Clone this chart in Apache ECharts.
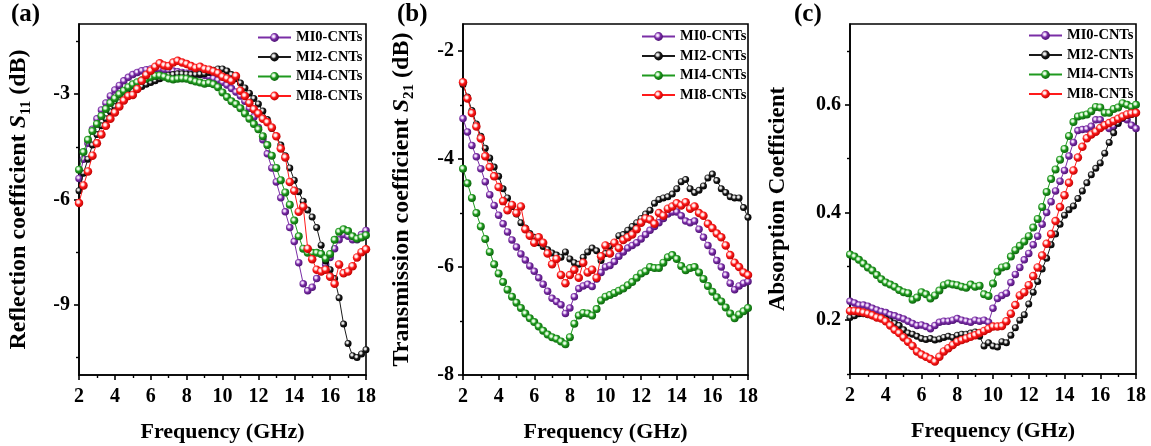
<!DOCTYPE html>
<html>
<head>
<meta charset="utf-8">
<script src="https://cdn.jsdelivr.net/npm/echarts@6/dist/echarts.min.js"></script>
<style>html,body{margin:0;padding:0;background:#fff}#c{width:1151px;height:446px}</style>
</head>
<body>
<div id="c"></div>
<script>
// ---------------- data ----------------
const freq = [2,2.25,2.5,2.75,3,3.25,3.5,3.75,4,4.25,4.5,4.75,5,5.25,5.5,5.75,6,6.25,6.5,6.75,7,7.25,7.5,7.75,8,8.25,8.5,8.75,9,9.25,9.5,9.75,10,10.25,10.5,10.75,11,11.25,11.5,11.75,12,12.25,12.5,12.75,13,13.25,13.5,13.75,14,14.25,14.5,14.75,15,15.25,15.5,15.75,16,16.25,16.5,16.75,17,17.25,17.5,17.75,18];
const seriesNames = ['MI0-CNTs','MI2-CNTs','MI4-CNTs','MI8-CNTs'];
const xTicks = [2,4,6,8,10,12,14,16,18];

// (a) Reflection coefficient S11 (dB)
const s11_MI0 = [-5.40,-4.85,-4.40,-4.00,-3.70,-3.45,-3.25,-3.05,-2.88,-2.75,-2.62,-2.52,-2.44,-2.38,-2.33,-2.30,-2.28,-2.27,-2.28,-2.30,-2.32,-2.34,-2.36,-2.38,-2.40,-2.41,-2.42,-2.44,-2.46,-2.50,-2.55,-2.60,-2.66,-2.74,-2.84,-2.94,-3.05,-3.20,-3.40,-3.65,-3.95,-4.30,-4.70,-5.10,-5.50,-5.95,-6.35,-6.80,-7.20,-7.80,-8.40,-8.60,-8.50,-8.25,-8.05,-7.85,-7.65,-7.40,-7.15,-7.00,-7.05,-7.15,-7.15,-7.00,-6.88];
const s11_MI2 = [-5.75,-5.25,-4.85,-4.45,-4.15,-3.90,-3.70,-3.50,-3.35,-3.22,-3.10,-3.00,-2.92,-2.85,-2.78,-2.72,-2.67,-2.62,-2.56,-2.50,-2.46,-2.44,-2.42,-2.42,-2.43,-2.44,-2.44,-2.43,-2.42,-2.38,-2.32,-2.28,-2.28,-2.34,-2.44,-2.56,-2.68,-2.82,-2.97,-3.12,-3.28,-3.48,-3.72,-3.98,-4.20,-4.45,-4.75,-5.10,-5.45,-5.78,-6.05,-6.30,-6.50,-6.80,-7.30,-7.75,-8.00,-8.25,-8.80,-9.55,-10.10,-10.45,-10.50,-10.40,-10.28];
const s11_MI4 = [-5.15,-4.65,-4.30,-4.05,-3.85,-3.62,-3.42,-3.25,-3.12,-3.00,-2.90,-2.80,-2.72,-2.66,-2.60,-2.56,-2.52,-2.48,-2.47,-2.50,-2.55,-2.58,-2.56,-2.55,-2.56,-2.60,-2.64,-2.67,-2.70,-2.68,-2.72,-2.80,-2.95,-3.08,-3.20,-3.28,-3.40,-3.55,-3.70,-3.85,-4.00,-4.20,-4.45,-4.75,-5.10,-5.45,-5.80,-6.15,-6.60,-7.05,-7.40,-7.52,-7.52,-7.52,-7.55,-7.68,-7.55,-7.15,-6.92,-6.85,-6.90,-7.05,-7.12,-7.08,-7.02];
const s11_MI8 = [-6.10,-5.60,-5.20,-4.75,-4.40,-4.15,-3.90,-3.70,-3.52,-3.35,-3.18,-3.05,-3.02,-2.85,-2.62,-2.45,-2.33,-2.22,-2.12,-2.18,-2.20,-2.10,-2.05,-2.10,-2.14,-2.20,-2.25,-2.22,-2.28,-2.30,-2.35,-2.40,-2.50,-2.55,-2.62,-2.48,-2.90,-3.05,-3.25,-3.43,-3.55,-3.70,-3.80,-3.95,-4.20,-4.55,-4.80,-5.50,-5.75,-6.35,-6.20,-7.40,-7.70,-8.00,-8.05,-8.00,-8.20,-8.40,-7.85,-8.10,-8.05,-7.90,-7.65,-7.50,-7.42];
const s11Labels = [-9,-6,-3];
const s11Minor = [-10.5,-7.5,-4.5,-1.5];

// (b) Transmission coefficient S21 (dB)
const s21_MI0 = [-3.25,-3.50,-3.75,-3.96,-4.18,-4.42,-4.66,-4.86,-5.04,-5.20,-5.35,-5.50,-5.63,-5.76,-5.87,-5.98,-6.08,-6.20,-6.32,-6.45,-6.58,-6.64,-6.70,-6.86,-6.76,-6.55,-6.40,-6.35,-6.32,-6.36,-6.22,-6.10,-6.00,-5.97,-5.90,-5.80,-5.72,-5.65,-5.60,-5.55,-5.48,-5.40,-5.32,-5.25,-5.18,-5.10,-5.02,-4.98,-4.98,-5.05,-5.15,-5.18,-5.15,-5.30,-5.45,-5.60,-5.72,-5.88,-6.00,-6.15,-6.30,-6.42,-6.35,-6.30,-6.27];
const s21_MI2 = [-2.62,-2.85,-3.10,-3.35,-3.58,-3.80,-3.98,-4.15,-4.32,-4.55,-4.72,-4.88,-5.02,-5.18,-5.28,-5.38,-5.45,-5.55,-5.62,-5.68,-5.74,-5.78,-5.82,-5.72,-5.85,-5.92,-5.95,-5.82,-5.72,-5.65,-5.70,-5.88,-5.75,-5.62,-5.55,-5.42,-5.40,-5.32,-5.25,-5.18,-5.10,-5.02,-4.95,-4.82,-4.75,-4.72,-4.70,-4.65,-4.55,-4.42,-4.38,-4.55,-4.62,-4.58,-4.50,-4.35,-4.28,-4.40,-4.55,-4.62,-4.70,-4.72,-4.72,-4.90,-5.08];
const s21_MI4 = [-4.18,-4.45,-4.72,-5.00,-5.25,-5.48,-5.72,-5.95,-6.12,-6.28,-6.42,-6.55,-6.66,-6.76,-6.86,-6.95,-7.02,-7.10,-7.18,-7.25,-7.30,-7.33,-7.38,-7.43,-7.30,-7.05,-6.90,-6.85,-6.86,-6.90,-6.78,-6.62,-6.55,-6.52,-6.48,-6.44,-6.40,-6.34,-6.28,-6.20,-6.12,-6.08,-6.00,-6.02,-6.02,-5.92,-5.82,-5.78,-5.85,-5.98,-6.06,-6.02,-6.00,-6.10,-6.22,-6.35,-6.46,-6.56,-6.64,-6.75,-6.86,-6.95,-6.88,-6.82,-6.76];
const s21_MI8 = [-2.58,-2.88,-3.15,-3.40,-3.62,-3.95,-4.15,-4.32,-4.52,-4.78,-4.95,-4.85,-5.00,-4.88,-5.30,-5.42,-5.55,-5.45,-5.55,-5.75,-5.95,-5.85,-6.15,-6.30,-6.15,-6.05,-6.20,-5.92,-6.10,-6.05,-6.20,-5.80,-5.60,-5.75,-5.55,-5.65,-5.50,-5.45,-5.40,-5.30,-5.18,-5.10,-5.12,-5.20,-5.00,-5.05,-4.92,-4.88,-4.82,-4.86,-4.80,-4.92,-4.88,-5.00,-5.05,-5.20,-5.28,-5.38,-5.45,-5.60,-5.78,-5.92,-6.00,-6.10,-6.15];
const s21Labels = [-8,-6,-4,-2];
const s21Minor = [-7,-5,-3];

// (c) Absorption Coefficient
const abs_MI0 = [0.235,0.232,0.228,0.228,0.226,0.222,0.219,0.216,0.214,0.210,0.208,0.205,0.202,0.198,0.194,0.190,0.191,0.188,0.184,0.190,0.196,0.198,0.198,0.200,0.203,0.200,0.198,0.196,0.200,0.198,0.200,0.196,0.222,0.240,0.246,0.250,0.270,0.285,0.298,0.312,0.324,0.340,0.356,0.378,0.400,0.420,0.440,0.458,0.478,0.505,0.530,0.552,0.554,0.555,0.560,0.572,0.572,0.562,0.556,0.560,0.568,0.575,0.572,0.562,0.556];
const abs_MI2 = [0.205,0.208,0.212,0.212,0.210,0.208,0.206,0.204,0.202,0.198,0.194,0.190,0.182,0.176,0.174,0.170,0.166,0.164,0.166,0.163,0.165,0.168,0.170,0.168,0.172,0.174,0.174,0.176,0.178,0.170,0.152,0.158,0.152,0.150,0.160,0.158,0.172,0.186,0.200,0.210,0.230,0.252,0.272,0.295,0.315,0.340,0.360,0.378,0.395,0.405,0.412,0.426,0.440,0.455,0.470,0.482,0.492,0.510,0.530,0.548,0.565,0.576,0.580,0.582,0.585];
const abs_MI4 = [0.322,0.318,0.312,0.305,0.298,0.292,0.284,0.276,0.270,0.266,0.262,0.256,0.252,0.250,0.238,0.242,0.252,0.248,0.240,0.246,0.255,0.265,0.268,0.266,0.265,0.262,0.260,0.266,0.262,0.264,0.248,0.245,0.268,0.290,0.298,0.300,0.318,0.330,0.338,0.346,0.356,0.372,0.388,0.410,0.438,0.462,0.480,0.498,0.518,0.542,0.568,0.578,0.580,0.582,0.588,0.596,0.595,0.585,0.585,0.592,0.595,0.603,0.600,0.596,0.600];
const abs_MI8 = [0.217,0.217,0.216,0.214,0.212,0.209,0.205,0.203,0.198,0.190,0.182,0.176,0.168,0.160,0.152,0.142,0.136,0.132,0.128,0.123,0.132,0.142,0.148,0.154,0.160,0.163,0.166,0.169,0.172,0.176,0.180,0.184,0.188,0.188,0.189,0.198,0.212,0.228,0.246,0.252,0.265,0.282,0.298,0.320,0.342,0.360,0.384,0.410,0.432,0.455,0.478,0.502,0.522,0.538,0.545,0.550,0.557,0.562,0.566,0.570,0.574,0.578,0.582,0.584,0.585];
const absLabels = [0.2,0.4,0.6];
const absMinor = [0.1,0.3,0.5,0.7];

// ---------------- styling ----------------
const FONT = '"Times New Roman", "Liberation Serif", "DejaVu Serif", serif';
const styles = [
  {base:'#7a2ea6', light:'#e6c8f5', dark:'#4a0f70', size:7.5},
  {base:'#1a1a1a', light:'#d8d8d8', dark:'#000000', size:7},
  {base:'#1f9a1f', light:'#d5f5d0', dark:'#0b5e0b', size:8},
  {base:'#ff1a1a', light:'#ffe0e0', dark:'#b80000', size:8.5}
];
function ball(s){
  return {type:'radial', x:0.4, y:0.38, r:0.65, colorStops:[
    {offset:0, color:'#ffffff'},{offset:0.22, color:s.light},{offset:0.5, color:s.base},{offset:1, color:s.dark}]};
}

const grids = [
  {left:79, top:24, width:287, height:351},
  {left:463, top:24, width:285, height:351},
  {left:850, top:24, width:286, height:350}
];
const yRanges = [[-11,-1],[-8,-1.5],[0.1,0.75]];
const yLabelVals = [s11Labels, s21Labels, absLabels];
const yMinorVals = [s11Minor, s21Minor, absMinor];
const yNames = ['Reflection coefficient {i|S}{s|11} (dB)','Transmission coefficient {i|S}{s|21} (dB)','Absorption Coefficient'];
const yNameGaps = [45, 46, 57];
const yNameSizes = [24, 24, 23];
const panelData = [
  [s11_MI0, s11_MI2, s11_MI4, s11_MI8],
  [s21_MI0, s21_MI2, s21_MI4, s21_MI8],
  [abs_MI0, abs_MI2, abs_MI4, abs_MI8]
];
const panelLetters = ['(a)','(b)','(c)'];
const letterPos = [[11,2],[397,2],[794,2]];
const legendPos = [[257,30],[641,29],[1028,28]];

const tickLabelStyle = {fontFamily:FONT, fontWeight:'bold', fontSize:20, color:'#000'};
const axisLineStyle = {color:'#000', width:1.6};

const xAxes = grids.map((g,i)=>({
  type:'value', gridIndex:i, min:2, max:18, interval:2,
  name:'Frequency (GHz)', nameLocation:'middle', nameGap:46,
  nameTextStyle:{fontFamily:FONT, fontWeight:'bold', fontSize:22, color:'#000'},
  axisLine:{show:true, onZero:false, lineStyle:axisLineStyle},
  axisTick:{show:true, length:5, lineStyle:axisLineStyle},
  minorTick:{show:true, splitNumber:2, length:3, lineStyle:{color:'#000', width:1.4}},
  axisLabel:Object.assign({margin:12, formatter:v=> xTicks.includes(v) ? String(v) : ''}, tickLabelStyle),
  splitLine:{show:false}, minorSplitLine:{show:false}
}));

const yAxes = [];
grids.forEach((g,i)=>{
  yAxes.push({
    type:'value', gridIndex:i, position:'left', min:yRanges[i][0], max:yRanges[i][1],
    name:yNames[i], nameLocation:'middle', nameGap:yNameGaps[i], nameRotate:90,
    nameTextStyle:{fontFamily:FONT, fontWeight:'bold', fontSize:yNameSizes[i], color:'#000', lineHeight:30,
      rich:{
        i:{fontFamily:FONT, fontWeight:'bold', fontStyle:'italic', fontSize:yNameSizes[i], color:'#000', lineHeight:30},
        s:{fontFamily:FONT, fontWeight:'bold', fontSize:15, color:'#000', verticalAlign:'bottom', lineHeight:18}
      }},
    axisLine:{show:true, onZero:false, lineStyle:axisLineStyle},
    axisTick:{show:true, length:5, lineStyle:axisLineStyle, customValues:yLabelVals[i]},
    axisLabel:Object.assign({margin:9, customValues:yLabelVals[i], formatter:v=>String(v)}, tickLabelStyle),
    splitLine:{show:false}
  });
});
grids.forEach((g,i)=>{
  yAxes.push({
    type:'value', gridIndex:i, position:'left', min:yRanges[i][0], max:yRanges[i][1],
    axisLine:{show:false, onZero:false},
    axisTick:{show:true, length:3, lineStyle:{color:'#000', width:1.4}, customValues:yMinorVals[i]},
    axisLabel:{show:false},
    splitLine:{show:false}
  });
});

const series = [];
panelData.forEach((arrs,p)=>{
  arrs.forEach((vals,k)=>{
    const s = styles[k];
    series.push({
      type:'line', name:seriesNames[k], xAxisIndex:p, yAxisIndex:p,
      data: freq.map((f,j)=>[f, vals[j]]),
      symbol:'circle', symbolSize:s.size, showSymbol:true, showAllSymbol:true,
      lineStyle:{color:s.base, width:1},
      itemStyle:{color:ball(s), borderWidth:0},
      emphasis:{disabled:true},
      z:2+k
    });
  });
});

const option = {
  animation:false,
  backgroundColor:'#fff',
  title: panelLetters.map((t,i)=>({text:t, left:letterPos[i][0], top:letterPos[i][1], padding:0,
    textStyle:{fontFamily:FONT, fontWeight:'bold', fontSize:25, color:'#000'}})),
  grid: grids.map(g=>Object.assign({show:true, borderColor:'#000', borderWidth:1.6, backgroundColor:'transparent', containLabel:false, outerBoundsMode:'none'}, g)),
  legend: legendPos.map((pos,i)=>({
    data:seriesNames, orient:'vertical', left:pos[0], top:pos[1], padding:0,
    itemWidth:33, itemHeight:11, itemGap:4.5, selectedMode:false,
    textStyle:{fontFamily:FONT, fontWeight:'bold', fontSize:14.5, color:'#000'}
  })),
  xAxis:xAxes,
  yAxis:yAxes,
  series:series
};
const chart = echarts.init(document.getElementById('c'), null, {renderer:'canvas'});
chart.setOption(option);
</script>
</body>
</html>
